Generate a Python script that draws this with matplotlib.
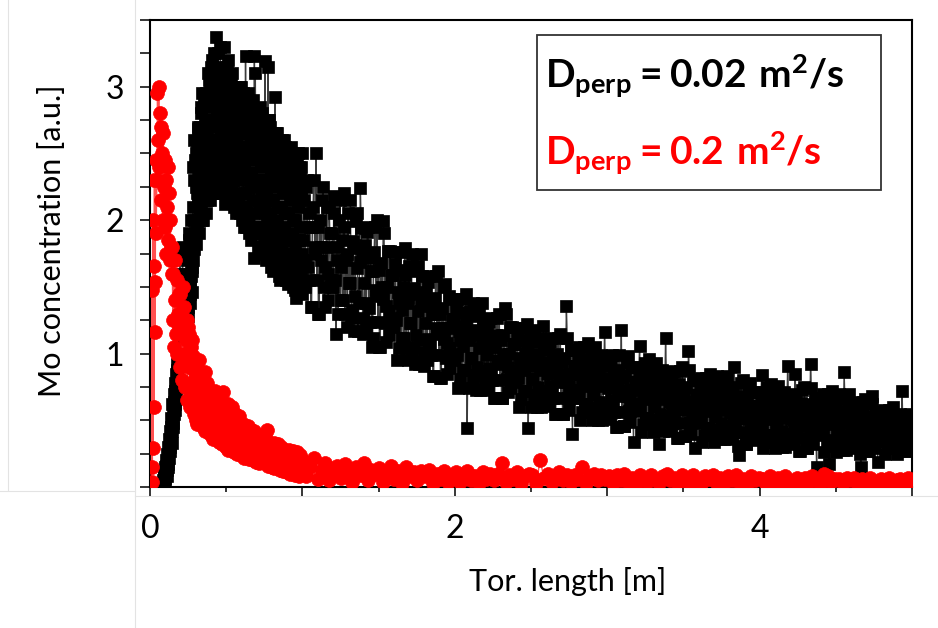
import numpy as np
import matplotlib.pyplot as plt
from matplotlib.lines import Line2D
from matplotlib.patches import Rectangle
from matplotlib.ticker import MultipleLocator

plt.rcParams['font.family'] = ['Lato', 'DejaVu Sans']
plt.rcParams['mathtext.fontset'] = 'custom'
plt.rcParams['mathtext.rm'] = 'Lato'
plt.rcParams['mathtext.bf'] = 'Lato:bold'

# Dperp = 0.02 m^2/s  (black squares), rising part + peak, x = 0.085 .. 1.0
# two read-outs of the same stretch, interleaved sample by sample below
black_y_rise_a = [
    0.01, 0.02, 0.04, 0.03, 0.07, 0.10, 0.08, 0.13, 0.17, 0.15, 0.22, 0.27,
    0.30, 0.36, 0.33, 0.42, 0.48, 0.45, 0.55, 0.62, 0.58, 0.68, 0.75, 0.80,
    0.82, 0.88, 0.85, 0.93, 1.75, 0.92, 1.00, 1.05, 1.80, 1.08, 1.12, 1.07,
    1.15, 1.22, 1.30, 1.20, 1.75, 1.35, 1.42, 1.85, 1.38, 1.50, 1.58, 1.46,
    1.65, 2.10, 1.78, 2.30, 1.90, 2.45, 1.82, 2.20, 2.55, 2.00, 2.68, 2.35,
    2.05, 2.70, 2.25, 2.85, 2.00, 2.55, 2.40, 2.90, 2.15, 2.75, 2.60, 2.95,
    2.15, 2.90, 2.40, 3.05, 2.25, 2.70, 3.15, 2.50, 2.20, 2.95, 2.60, 3.25,
    2.20, 3.00, 2.55, 3.37, 2.35, 2.80, 3.10, 2.45, 2.90, 2.25, 3.30, 2.65,
    2.30, 2.95, 2.20, 3.30, 2.60, 2.75, 2.12, 3.05, 2.45, 2.85, 3.20, 2.35,
    2.15, 2.90, 2.40, 3.05, 2.60, 2.25, 2.80, 3.00, 2.10, 2.70, 2.50, 2.95,
    2.05, 2.85, 2.30, 2.95, 2.55, 2.15, 2.75, 3.00, 2.40, 2.00, 2.65, 2.90,
    1.95, 2.80, 2.20, 3.23, 2.50, 2.05, 2.70, 2.90, 2.35, 1.90, 2.60, 2.85,
    1.85, 2.75, 2.15, 2.90, 2.45, 1.72, 2.60, 3.10, 2.30, 1.90, 2.55, 2.80,
    1.80, 2.65, 2.10, 2.85, 2.40, 1.95, 2.55, 2.75, 2.25, 1.75, 2.50, 3.19,
    1.70, 2.60, 2.00, 2.75, 2.30, 1.85, 2.50, 2.70, 2.15, 1.65, 2.40, 2.65,
    1.62, 2.50, 1.95, 2.92, 2.25, 1.80, 2.45, 2.65, 2.10, 1.58, 2.35, 2.55,
    1.55, 2.45, 1.90, 2.60, 2.20, 1.75, 2.40, 2.55, 2.05, 1.55, 2.30, 2.50,
    1.52, 2.40, 1.85, 2.50, 2.15, 1.70, 2.35, 2.45, 2.00, 1.50, 2.25, 2.48,
    1.48, 2.35, 1.42, 2.45, 2.10, 1.65, 2.30, 2.40, 1.95, 1.52, 2.20, 2.50,
]
black_y_rise_b = [
    0.05, 0.10, 0.08, 0.15, 0.20, 0.16, 0.25, 0.22, 0.30, 0.36, 0.30, 0.42,
    0.45, 0.52, 0.48, 0.62, 0.55, 0.70, 0.64, 0.78, 0.72, 0.85, 0.92, 0.88,
    0.98, 1.02, 1.08, 1.30, 1.10, 1.15, 1.60, 1.18, 1.22, 1.45, 1.28, 1.32,
    1.25, 1.60, 1.33, 1.70, 1.40, 1.28, 1.90, 1.45, 1.55, 1.68, 2.00, 1.62,
    1.70, 2.40, 2.00, 2.60, 1.85, 2.25, 2.50, 1.95, 2.70, 2.15, 2.40, 1.90,
    2.45, 2.10, 2.80, 2.30, 2.95, 2.00, 2.65, 2.20, 2.90, 2.50, 2.05, 2.70,
    2.60, 3.10, 2.30, 2.85, 2.15, 3.00, 2.45, 2.75, 3.20, 2.35, 2.95, 2.55,
    2.75, 2.30, 3.15, 2.50, 2.95, 2.20, 3.25, 2.60, 2.40, 3.05, 2.70, 2.85,
    2.50, 3.10, 2.30, 2.90, 2.65, 3.00, 2.20, 2.80, 3.15, 2.40, 2.70, 2.55,
    2.65, 2.20, 2.95, 2.45, 2.75, 3.10, 2.30, 2.85, 2.55, 2.15, 3.00, 2.60,
    2.60, 2.10, 2.90, 2.35, 2.70, 2.05, 3.00, 2.50, 2.20, 2.80, 2.45, 2.95,
    2.40, 2.90, 2.10, 2.65, 1.95, 2.80, 2.30, 2.95, 2.55, 2.00, 2.75, 2.25,
    2.35, 2.85, 2.05, 2.60, 1.90, 3.23, 2.25, 2.70, 2.50, 1.95, 2.80, 2.15,
    2.30, 2.75, 1.95, 2.55, 1.80, 2.80, 2.15, 2.65, 2.45, 1.85, 2.70, 2.05,
    2.20, 2.70, 1.90, 3.15, 1.75, 2.75, 2.05, 2.55, 2.35, 1.80, 2.60, 1.95,
    2.15, 2.60, 1.85, 2.45, 1.70, 2.65, 2.00, 2.50, 2.30, 1.75, 2.55, 1.90,
    2.10, 2.55, 1.80, 2.40, 1.65, 2.60, 1.95, 2.45, 2.25, 1.70, 2.50, 1.85,
    2.05, 2.50, 1.75, 2.35, 1.60, 2.55, 1.90, 2.40, 2.20, 1.65, 2.45, 1.80,
    2.00, 2.45, 1.70, 2.30, 1.55, 2.50, 1.85, 2.35, 2.15, 1.60, 2.40, 1.75,
]

# Dperp = 0.02 m^2/s, decaying tail, x = 1.0 .. 5.0
black_y_tail_a = [
    1.45, 2.15, 1.70, 2.30, 1.55, 1.95, 1.35, 2.10, 1.80, 2.50,
    1.95, 1.30, 1.80, 2.15, 1.50, 1.65, 2.10, 1.40, 1.90, 1.55,
    1.50, 2.18, 1.15, 1.70, 2.00, 1.40, 1.85, 2.20, 1.30, 1.75,
    2.05, 1.53, 1.27, 1.84, 1.17, 1.99, 1.64, 1.38, 2.24, 1.74,
    1.15, 1.81, 1.38, 1.95, 1.24, 1.62, 1.12, 1.76, 1.48, 2.00,
    1.63, 1.05, 1.50, 1.99, 1.23, 1.36, 1.77, 1.14, 1.59, 1.27,
    1.20, 1.76, 0.95, 1.38, 1.63, 1.12, 1.50, 1.79, 1.04, 1.42,
    1.66, 1.23, 1.01, 1.49, 0.92, 1.62, 1.32, 1.10, 1.75, 1.40,
    0.91, 1.46, 1.11, 1.58, 0.99, 1.30, 0.83, 1.42, 1.19, 1.62,
    1.30, 0.82, 1.19, 1.50, 0.97, 1.08, 1.43, 0.89, 1.26, 1.00,
    0.95, 1.41, 0.74, 1.10, 1.31, 0.88, 1.20, 1.45, 0.44, 1.13,
    1.31, 0.97, 0.80, 1.18, 0.73, 1.28, 1.04, 0.87, 1.38, 1.11,
    0.73, 1.17, 0.89, 1.27, 0.80, 1.05, 0.67, 1.14, 0.95, 1.30,
    1.10, 0.67, 1.00, 1.34, 0.81, 0.90, 1.20, 0.74, 1.07, 0.84,
    0.79, 1.19, 0.60, 0.91, 1.10, 0.72, 1.00, 1.22, 0.44, 0.94,
    1.12, 0.81, 0.66, 1.00, 0.60, 1.09, 0.88, 0.72, 1.21, 0.94,
    0.61, 1.03, 0.76, 1.12, 0.67, 0.91, 0.55, 1.00, 0.82, 1.15,
    0.94, 0.55, 0.85, 1.36, 0.67, 0.76, 1.03, 0.40, 0.91, 0.70,
    0.67, 1.05, 0.50, 0.79, 0.96, 0.62, 0.88, 1.08, 0.56, 0.82,
    0.99, 0.70, 0.56, 0.88, 0.50, 0.96, 0.76, 0.62, 1.16, 0.82,
    0.51, 0.91, 0.65, 0.99, 0.56, 0.79, 0.45, 0.88, 0.71, 1.18,
    0.82, 0.46, 0.73, 0.93, 0.57, 0.65, 0.90, 0.34, 0.79, 0.60,
    0.58, 1.06, 0.41, 0.69, 0.85, 0.52, 0.77, 0.96, 0.47, 0.71,
    0.88, 0.61, 0.47, 0.77, 0.32, 0.85, 0.66, 0.53, 1.12, 0.71,
    0.42, 0.79, 0.56, 0.87, 0.48, 0.69, 0.37, 0.77, 0.61, 0.90,
    0.72, 0.38, 0.64, 1.02, 0.48, 0.56, 0.80, 0.29, 0.69, 0.51,
    0.49, 0.82, 0.34, 0.60, 0.75, 0.44, 0.67, 0.85, 0.39, 0.62,
    0.78, 0.53, 0.41, 0.68, 0.36, 0.76, 0.58, 0.46, 0.83, 0.63,
    0.36, 0.70, 0.48, 0.90, 0.41, 0.60, 0.24, 0.68, 0.53, 0.80,
    0.64, 0.32, 0.56, 0.73, 0.42, 0.49, 0.71, 0.37, 0.61, 0.44,
    0.43, 0.84, 0.29, 0.53, 0.67, 0.39, 0.60, 0.77, 0.34, 0.55,
    0.71, 0.47, 0.35, 0.62, 0.30, 0.69, 0.52, 0.40, 0.91, 0.57,
    0.32, 0.65, 0.44, 0.85, 0.37, 0.56, 0.27, 0.63, 0.49, 0.75,
    0.60, 0.29, 0.53, 0.92, 0.39, 0.46, 0.67, 0.15, 0.58, 0.41,
    0.40, 0.70, 0.26, 0.49, 0.63, 0.17, 0.56, 0.72, 0.31, 0.51,
    0.66, 0.44, 0.33, 0.57, 0.28, 0.86, 0.48, 0.37, 0.70, 0.52,
    0.29, 0.58, 0.39, 0.64, 0.33, 0.50, 0.15, 0.56, 0.43, 0.66,
    0.51, 0.27, 0.45, 0.68, 0.34, 0.40, 0.56, 0.19, 0.49, 0.36,
    0.36, 0.58, 0.25, 0.43, 0.53, 0.32, 0.48, 0.60, 0.29, 0.44,
    0.52, 0.37, 0.30, 0.72, 0.27, 0.51, 0.40, 0.33, 0.55, 0.43,
]
black_y_tail_b = [
    1.85, 1.50, 2.25, 1.65, 2.05, 1.35, 1.95, 2.30, 1.75, 1.55,
    1.30, 2.00, 1.70, 2.25, 1.35, 1.80, 1.60, 2.10, 1.50, 1.90,
    2.05, 1.55, 1.80, 1.30, 2.15, 1.65, 1.40, 1.95, 1.70, 1.20,
    1.53, 2.15, 1.33, 1.79, 1.43, 2.05, 1.17, 1.69, 1.94, 1.27,
    1.53, 1.19, 1.91, 1.34, 1.72, 1.05, 1.62, 1.95, 1.43, 1.24,
    1.05, 1.68, 1.41, 1.90, 1.09, 1.50, 1.32, 1.77, 1.23, 1.59,
    1.67, 1.25, 1.46, 1.04, 1.76, 1.33, 1.12, 1.59, 1.38, 0.95,
    1.23, 1.75, 1.05, 1.45, 1.14, 1.66, 0.92, 1.36, 1.58, 1.01,
    1.23, 0.95, 1.54, 1.07, 1.38, 0.83, 1.30, 1.58, 1.15, 0.99,
    0.82, 1.34, 1.11, 1.52, 0.85, 1.19, 1.04, 1.41, 0.97, 1.26,
    1.34, 0.99, 1.17, 0.81, 1.41, 1.06, 0.88, 1.27, 1.10, 0.74,
    0.97, 1.38, 0.84, 1.14, 0.90, 1.31, 0.73, 1.07, 1.24, 0.80,
    0.99, 0.76, 1.24, 0.86, 1.11, 0.67, 1.05, 1.27, 0.92, 0.80,
    0.67, 1.14, 0.94, 1.30, 0.71, 1.00, 0.87, 1.20, 0.81, 1.07,
    1.13, 0.82, 0.97, 0.66, 1.19, 0.88, 0.72, 1.07, 0.91, 0.60,
    0.81, 1.18, 0.69, 0.97, 0.75, 1.12, 0.60, 0.91, 1.06, 0.66,
    0.85, 0.64, 1.09, 0.73, 0.97, 0.55, 0.91, 1.12, 0.79, 0.67,
    0.55, 0.97, 0.79, 1.12, 0.58, 0.85, 0.73, 1.03, 0.67, 0.91,
    0.99, 0.70, 0.85, 0.56, 1.05, 0.76, 0.62, 0.94, 0.79, 0.50,
    0.70, 1.05, 0.59, 0.85, 0.64, 0.99, 0.50, 0.79, 0.93, 0.56,
    0.74, 0.54, 0.96, 0.62, 0.85, 0.45, 0.79, 0.99, 0.68, 0.56,
    0.46, 0.84, 0.68, 0.98, 0.49, 0.73, 0.62, 0.90, 0.57, 0.79,
    0.88, 0.60, 0.74, 0.47, 0.93, 0.66, 0.52, 0.82, 0.69, 0.41,
    0.61, 0.93, 0.50, 0.74, 0.55, 0.88, 0.42, 0.69, 0.82, 0.47,
    0.64, 0.45, 0.85, 0.53, 0.74, 0.37, 0.69, 0.87, 0.58, 0.48,
    0.38, 0.75, 0.59, 0.88, 0.40, 0.64, 0.54, 0.80, 0.48, 0.69,
    0.77, 0.52, 0.65, 0.39, 0.82, 0.57, 0.44, 0.72, 0.60, 0.34,
    0.53, 0.83, 0.43, 0.66, 0.48, 0.78, 0.36, 0.61, 0.73, 0.41,
    0.56, 0.38, 0.75, 0.46, 0.65, 0.31, 0.60, 0.78, 0.51, 0.41,
    0.32, 0.66, 0.52, 0.78, 0.35, 0.56, 0.47, 0.71, 0.42, 0.61,
    0.70, 0.46, 0.58, 0.34, 0.75, 0.51, 0.39, 0.65, 0.53, 0.29,
    0.47, 0.76, 0.38, 0.59, 0.42, 0.71, 0.30, 0.54, 0.66, 0.35,
    0.51, 0.34, 0.70, 0.41, 0.61, 0.27, 0.56, 0.73, 0.46, 0.37,
    0.29, 0.62, 0.48, 0.74, 0.32, 0.53, 0.43, 0.67, 0.39, 0.58,
    0.65, 0.42, 0.54, 0.31, 0.70, 0.47, 0.35, 0.60, 0.49, 0.26,
    0.44, 0.70, 0.35, 0.55, 0.39, 0.66, 0.28, 0.50, 0.61, 0.33,
    0.46, 0.31, 0.62, 0.37, 0.54, 0.25, 0.50, 0.64, 0.41, 0.33,
    0.27, 0.53, 0.42, 0.62, 0.29, 0.45, 0.38, 0.56, 0.34, 0.49,
    0.55, 0.37, 0.46, 0.29, 0.58, 0.41, 0.32, 0.51, 0.43, 0.25,
    0.37, 0.55, 0.31, 0.45, 0.34, 0.52, 0.27, 0.42, 0.49, 0.30,
]

# Dperp = 0.2 m^2/s  (red circles)
red_y_edge = [0.04, 1.48, 0.15, 2.00, 0.29, 1.66, 0.60, 2.30, 1.16, 1.54, 2.45, 1.90]  # x = 0.01 .. 0.04

red_y_peak = [  # x = 0.045 .. 1.0
    2.30, 2.95, 2.60, 3.00, 2.40, 2.80, 2.15, 2.70, 2.50, 2.00, 2.65, 2.25,
    2.45, 1.95, 2.30, 1.75, 2.10, 2.40, 1.85, 2.20, 1.70, 2.00, 1.80, 1.60,
    1.80, 1.25, 1.60, 1.05, 1.70, 1.40, 1.15, 1.55, 1.00, 1.30, 1.45, 1.20,
    1.45, 0.90, 1.30, 0.80, 1.20, 1.50, 1.00, 1.35, 0.75, 1.10, 0.95, 1.25,
    0.65, 1.20, 0.90, 1.15, 0.60, 1.05, 0.78, 1.10, 0.70, 0.98, 0.55, 0.86,
    0.92, 0.50, 0.82, 0.47, 0.88, 0.62, 0.95, 0.55, 0.75, 0.86, 0.60, 0.70,
    0.45, 0.74, 0.58, 0.86, 0.42, 0.70, 0.52, 0.78, 0.64, 0.48, 0.72, 0.60,
    0.40, 0.70, 0.55, 0.66, 0.36, 0.62, 0.50, 0.72, 0.42, 0.60, 0.68, 0.47,
    0.62, 0.34, 0.55, 0.68, 0.40, 0.60, 0.32, 0.50, 0.71, 0.38, 0.57, 0.45,
    0.30, 0.58, 0.42, 0.62, 0.28, 0.50, 0.56, 0.35, 0.53, 0.46, 0.60, 0.33,
    0.52, 0.26, 0.44, 0.55, 0.31, 0.48, 0.25, 0.40, 0.53, 0.29, 0.47, 0.37,
    0.24, 0.45, 0.32, 0.47, 0.22, 0.40, 0.43, 0.28, 0.42, 0.35, 0.46, 0.30,
    0.41, 0.21, 0.35, 0.43, 0.25, 0.38, 0.20, 0.31, 0.42, 0.24, 0.37, 0.29,
    0.19, 0.38, 0.26, 0.39, 0.18, 0.33, 0.36, 0.22, 0.35, 0.29, 0.37, 0.21,
    0.34, 0.18, 0.28, 0.36, 0.21, 0.43, 0.16, 0.26, 0.33, 0.20, 0.31, 0.24,
    0.15, 0.31, 0.22, 0.33, 0.14, 0.27, 0.30, 0.18, 0.29, 0.24, 0.32, 0.17,
    0.29, 0.13, 0.24, 0.30, 0.16, 0.26, 0.12, 0.21, 0.28, 0.15, 0.25, 0.19,
    0.11, 0.27, 0.18, 0.28, 0.10, 0.23, 0.26, 0.14, 0.25, 0.20, 0.27, 0.13,
    0.25, 0.09, 0.20, 0.26, 0.12, 0.22, 0.08, 0.17, 0.24, 0.11, 0.21, 0.15,
]

red_y_tail = [  # x = 1.0 .. 5.0
    0.20, 0.08, 0.15, 0.22, 0.06, 0.13, 0.18, 0.05, 0.11, 0.16,
    0.07, 0.17, 0.11, 0.04, 0.15, 0.09, 0.18, 0.05, 0.13, 0.10,
    0.14, 0.04, 0.10, 0.16, 0.06, 0.12, 0.03, 0.15, 0.08, 0.11,
    0.05, 0.12, 0.08, 0.13, 0.03, 0.10, 0.06, 0.12, 0.04, 0.09,
    0.11, 0.04, 0.09, 0.12, 0.05, 0.08, 0.03, 0.11, 0.06, 0.10,
    0.05, 0.10, 0.18, 0.04, 0.09, 0.06, 0.11, 0.03, 0.08, 0.10,
    0.09, 0.03, 0.20, 0.07, 0.10, 0.04, 0.08, 0.11, 0.05, 0.09,
    0.04, 0.09, 0.06, 0.15, 0.03, 0.08, 0.10, 0.05, 0.09, 0.06,
    0.08, 0.03, 0.09, 0.05, 0.10, 0.04, 0.07, 0.02, 0.09, 0.06,
    0.04, 0.09, 0.06, 0.03, 0.08, 0.10, 0.05, 0.07, 0.02, 0.09,
    0.07, 0.03, 0.09, 0.05, 0.02, 0.08, 0.06, 0.09, 0.04, 0.07,
    0.03, 0.08, 0.05, 0.09, 0.04, 0.06, 0.02, 0.08, 0.05, 0.07,
    0.06, 0.02, 0.08, 0.04, 0.07, 0.03, 0.08, 0.05, 0.02, 0.07,
    0.04, 0.07, 0.03, 0.08, 0.05, 0.02, 0.10, 0.08, 0.04, 0.06,
    0.06, 0.03, 0.07, 0.05, 0.07, 0.02, 0.06, 0.04, 0.07, 0.03,
    0.03, 0.06, 0.04, 0.07, 0.02, 0.05, 0.06, 0.03, 0.07, 0.04,
]


def interleave(a, b):
    return list(np.column_stack([a, b]).ravel())


black_rise = interleave(black_y_rise_a, black_y_rise_b)
black_tail = interleave(black_y_tail_a, black_y_tail_b)
black_x = np.concatenate([np.linspace(0.085, 1.0, len(black_rise), endpoint=False),
                          np.linspace(1.0, 5.0, len(black_tail))])
black_y = np.array(black_rise + black_tail)

red_x = np.concatenate([np.linspace(0.01, 0.04, len(red_y_edge)),
                        np.linspace(0.045, 1.0, len(red_y_peak), endpoint=False),
                        np.linspace(1.0, 5.0, len(red_y_tail))])
red_y = np.array(red_y_edge + red_y_peak + red_y_tail)

W, H = 938, 628
fig = plt.figure(figsize=(W / 100, H / 100), dpi=100)
ax = fig.add_axes([150 / W, 1 - 487 / H, 762 / W, 467 / H])

# faint frame lines of the original slide composite
for (x0, y0, x1, y1) in [(8, 0, 8, 490), (135, 0, 135, 628), (0, 491, 135, 491), (135, 496, 938, 496)]:
    fig.add_artist(Line2D([x0 / W, x1 / W], [1 - y0 / H, 1 - y1 / H], transform=fig.transFigure,
                          color='#e3e3e3', lw=0.8, zorder=0))

ax.plot(black_x, black_y, '-', color='#3c3c3c', lw=1.0, marker='s', ms=8.4,
        mfc='black', mec='black', mew=0.5, zorder=2)
ax.plot(red_x, red_y, '-', color='#ff5050', lw=1.0, marker='o', ms=10.0,
        mfc='red', mec='red', mew=0.5, zorder=3)

ax.set_xlim(0, 5)
ax.set_ylim(0, 3.5)
ax.set_xticks([0, 1, 2, 3, 4, 5])
ax.set_xticklabels(['0', '', '2', '', '4', ''])
ax.xaxis.set_minor_locator(MultipleLocator(0.5))
ax.set_yticks([1, 2, 3])
ax.yaxis.set_minor_locator(MultipleLocator(0.25))

ax.tick_params(axis='x', which='major', direction='out', length=6.5, width=1.1, labelsize=23, pad=13)
ax.tick_params(axis='x', which='minor', direction='out', length=3.6, width=1.1)
ax.tick_params(axis='y', which='both', direction='out', length=7, width=1.1, labelsize=23, pad=12)
for s in ax.spines.values():
    s.set_linewidth(1.5)

ax.set_xlabel('Tor. length [m]', fontsize=22, va='center')
ax.xaxis.set_label_coords((568 - 150) / 762, -(582 - 487) / 467)
ax.set_ylabel('Mo concentration [a.u.]', fontsize=22, va='center')
ax.yaxis.set_label_coords((52 - 150) / 762, 1 - (241 - 20) / 467)

ax.add_patch(Rectangle((0.508, 0.636), 0.451, 0.332, transform=ax.transAxes,
                       facecolor='white', edgecolor='#333333', lw=1.3, zorder=5))
ax.text(0.518, 0.854, r'$\mathbf{D_{perp}=0.02\ m^{2}/s}$', transform=ax.transAxes,
        fontsize=28, color='black', va='baseline', ha='left', zorder=6)
ax.text(0.518, 0.6895, r'$\mathbf{D_{perp}=0.2\ m^{2}/s}$', transform=ax.transAxes,
        fontsize=28, color='#ff0000', va='baseline', ha='left', zorder=6)

fig.savefig('out.png', dpi=100)
